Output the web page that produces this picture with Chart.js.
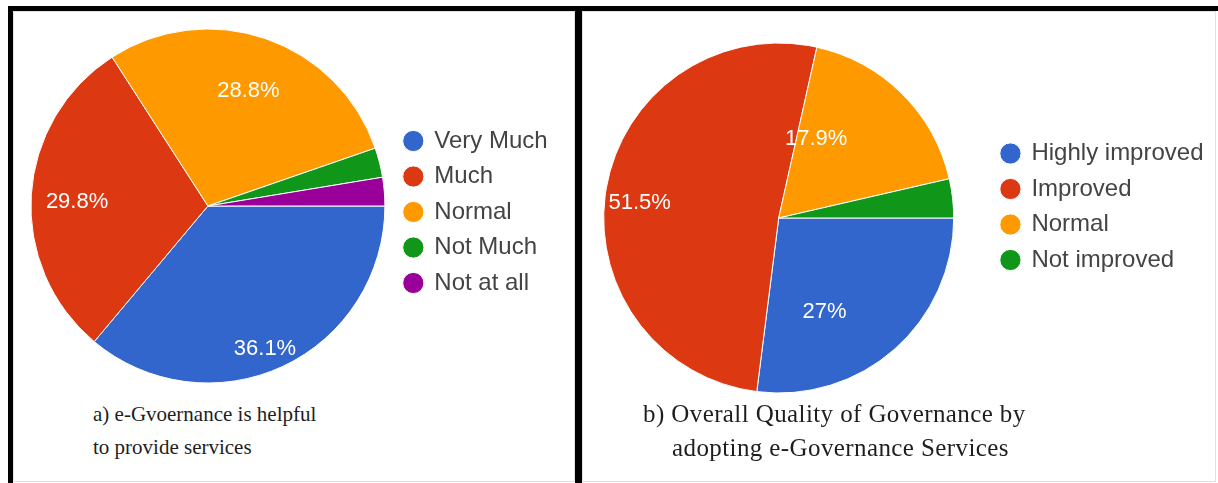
<!DOCTYPE html>
<html>
<head>
<meta charset="utf-8">
<script src="https://cdn.jsdelivr.net/npm/chart.js@4.4.1/dist/chart.umd.min.js"></script>
<style>
  html, body { margin: 0; padding: 0; background: #fff; }
  body { width: 1218px; height: 483px; position: relative; overflow: hidden; }
  .bar { position: absolute; background: #000; }
  .card { position: absolute; border: 1px solid #e2e2e2; box-sizing: border-box; }
  canvas { position: absolute; }
  .caption {
    position: absolute;
    font-family: 'Liberation Serif', 'Times New Roman', serif;
    color: #1e1e1e;
    white-space: nowrap;
  }
  #capA { left: 93px; top: 398px; font-size: 21px; line-height: 33px; }
  #capB { left: 643px; top: 397px; font-size: 25px; line-height: 34px; letter-spacing: 0.4px; }
  #capB span { padding-left: 29px; }
</style>
</head>
<body>
<div class="card" style="left:13px; top:11px; width:562px; height:471px"></div>
<div class="card" style="left:582px; top:11px; width:634px; height:471px"></div>
<div class="bar" style="left:8px; top:6px; width:1210px; height:5px"></div>
<div class="bar" style="left:8px; top:6px; width:5px; height:477px"></div>
<div class="bar" style="left:575px; top:6px; width:7px; height:477px"></div>

<canvas id="chartA" width="562" height="380" style="left:13px; top:11px"></canvas>
<canvas id="chartB" width="655" height="414" style="left:563px; top:11px"></canvas>

<div class="caption" id="capA">a) e-Gvoernance is helpful<br>to provide services</div>
<div class="caption" id="capB">b) Overall Quality of Governance by<br><span>adopting e-Governance Services</span></div>

<script>
// survey answers, percent of respondents
const labelsA = ['Very Much', 'Much', 'Normal', 'Not Much', 'Not at all'];
const valuesA = [36.1, 29.8, 28.8, 2.7, 2.6];
const colorsA = ['#3366cc', '#dc3912', '#ff9900', '#109618', '#990099'];

const labelsB = ['Highly improved', 'Improved', 'Normal', 'Not improved'];
const valuesB = [27, 51.5, 17.9, 3.6];
const colorsB = ['#3366cc', '#dc3912', '#ff9900', '#109618'];

const FONT = '"Liberation Sans", Arial, sans-serif';

// white percentage text inside the bigger slices
const sliceLabels = {
  id: 'sliceLabels',
  afterDatasetsDraw(chart, args, opts) {
    const { ctx } = chart;
    const values = chart.data.datasets[0].data;
    ctx.save();
    ctx.font = '22px ' + FONT;
    ctx.fillStyle = '#fff';
    ctx.textAlign = 'center';
    ctx.textBaseline = 'alphabetic';
    chart.getDatasetMeta(0).data.forEach((arc, i) => {
      if (values[i] < 5) return;
      const p = arc.getProps(['x', 'y', 'startAngle', 'endAngle', 'outerRadius']);
      const a = (p.startAngle + p.endAngle) / 2 + (opts.turn[i] || 0) * Math.PI / 180;
      const r = p.outerRadius * (opts.dist[i] || 0.7);
      // digits centred on the anchor point
      ctx.fillText(values[i] + '%', p.x + Math.cos(a) * r, p.y + Math.sin(a) * r + 8);
    });
    ctx.restore();
  }
};

function legendOpts(topGap) {
  return {
    position: 'right',
    align: 'start',
    // empty title used as a spacer above the items
    title: { display: true, text: ' ', font: { size: 1 }, padding: { top: topGap, bottom: 0 } },
    labels: {
      usePointStyle: true,
      pointStyle: 'circle',
      boxWidth: 18,
      boxHeight: 15,
      padding: 11.5,
      color: '#444',
      font: { size: 24, family: FONT }
    }
  };
}

function makePie(id, labels, values, colors, radius, padding, topGap, labelPos) {
  return new Chart(document.getElementById(id), {
    type: 'pie',
    data: {
      labels: labels,
      datasets: [{
        data: values,
        backgroundColor: colors,
        borderColor: '#fff',
        borderWidth: 1,
        radius: radius
      }]
    },
    options: {
      responsive: false,
      animation: false,
      rotation: 90,
      layout: { padding: padding },
      plugins: {
        legend: legendOpts(topGap),
        tooltip: { enabled: false },
        sliceLabels: labelPos
      }
    },
    plugins: [sliceLabels]
  });
}

makePie('chartA', labelsA, valuesA, colorsA, 177,
  { left: 10, right: 17.3, top: 10, bottom: 0 }, 95.3,
  { dist: [0.86, 0.74, 0.70], turn: [3, -1, 0] });

makePie('chartB', labelsB, valuesB, colorsB, 175,
  { left: 4.5, right: 4.5, top: 0, bottom: 0 }, 117.8,
  { dist: [0.59, 0.80, 0.51], turn: [15, -3, -20] });
</script>
</body>
</html>
